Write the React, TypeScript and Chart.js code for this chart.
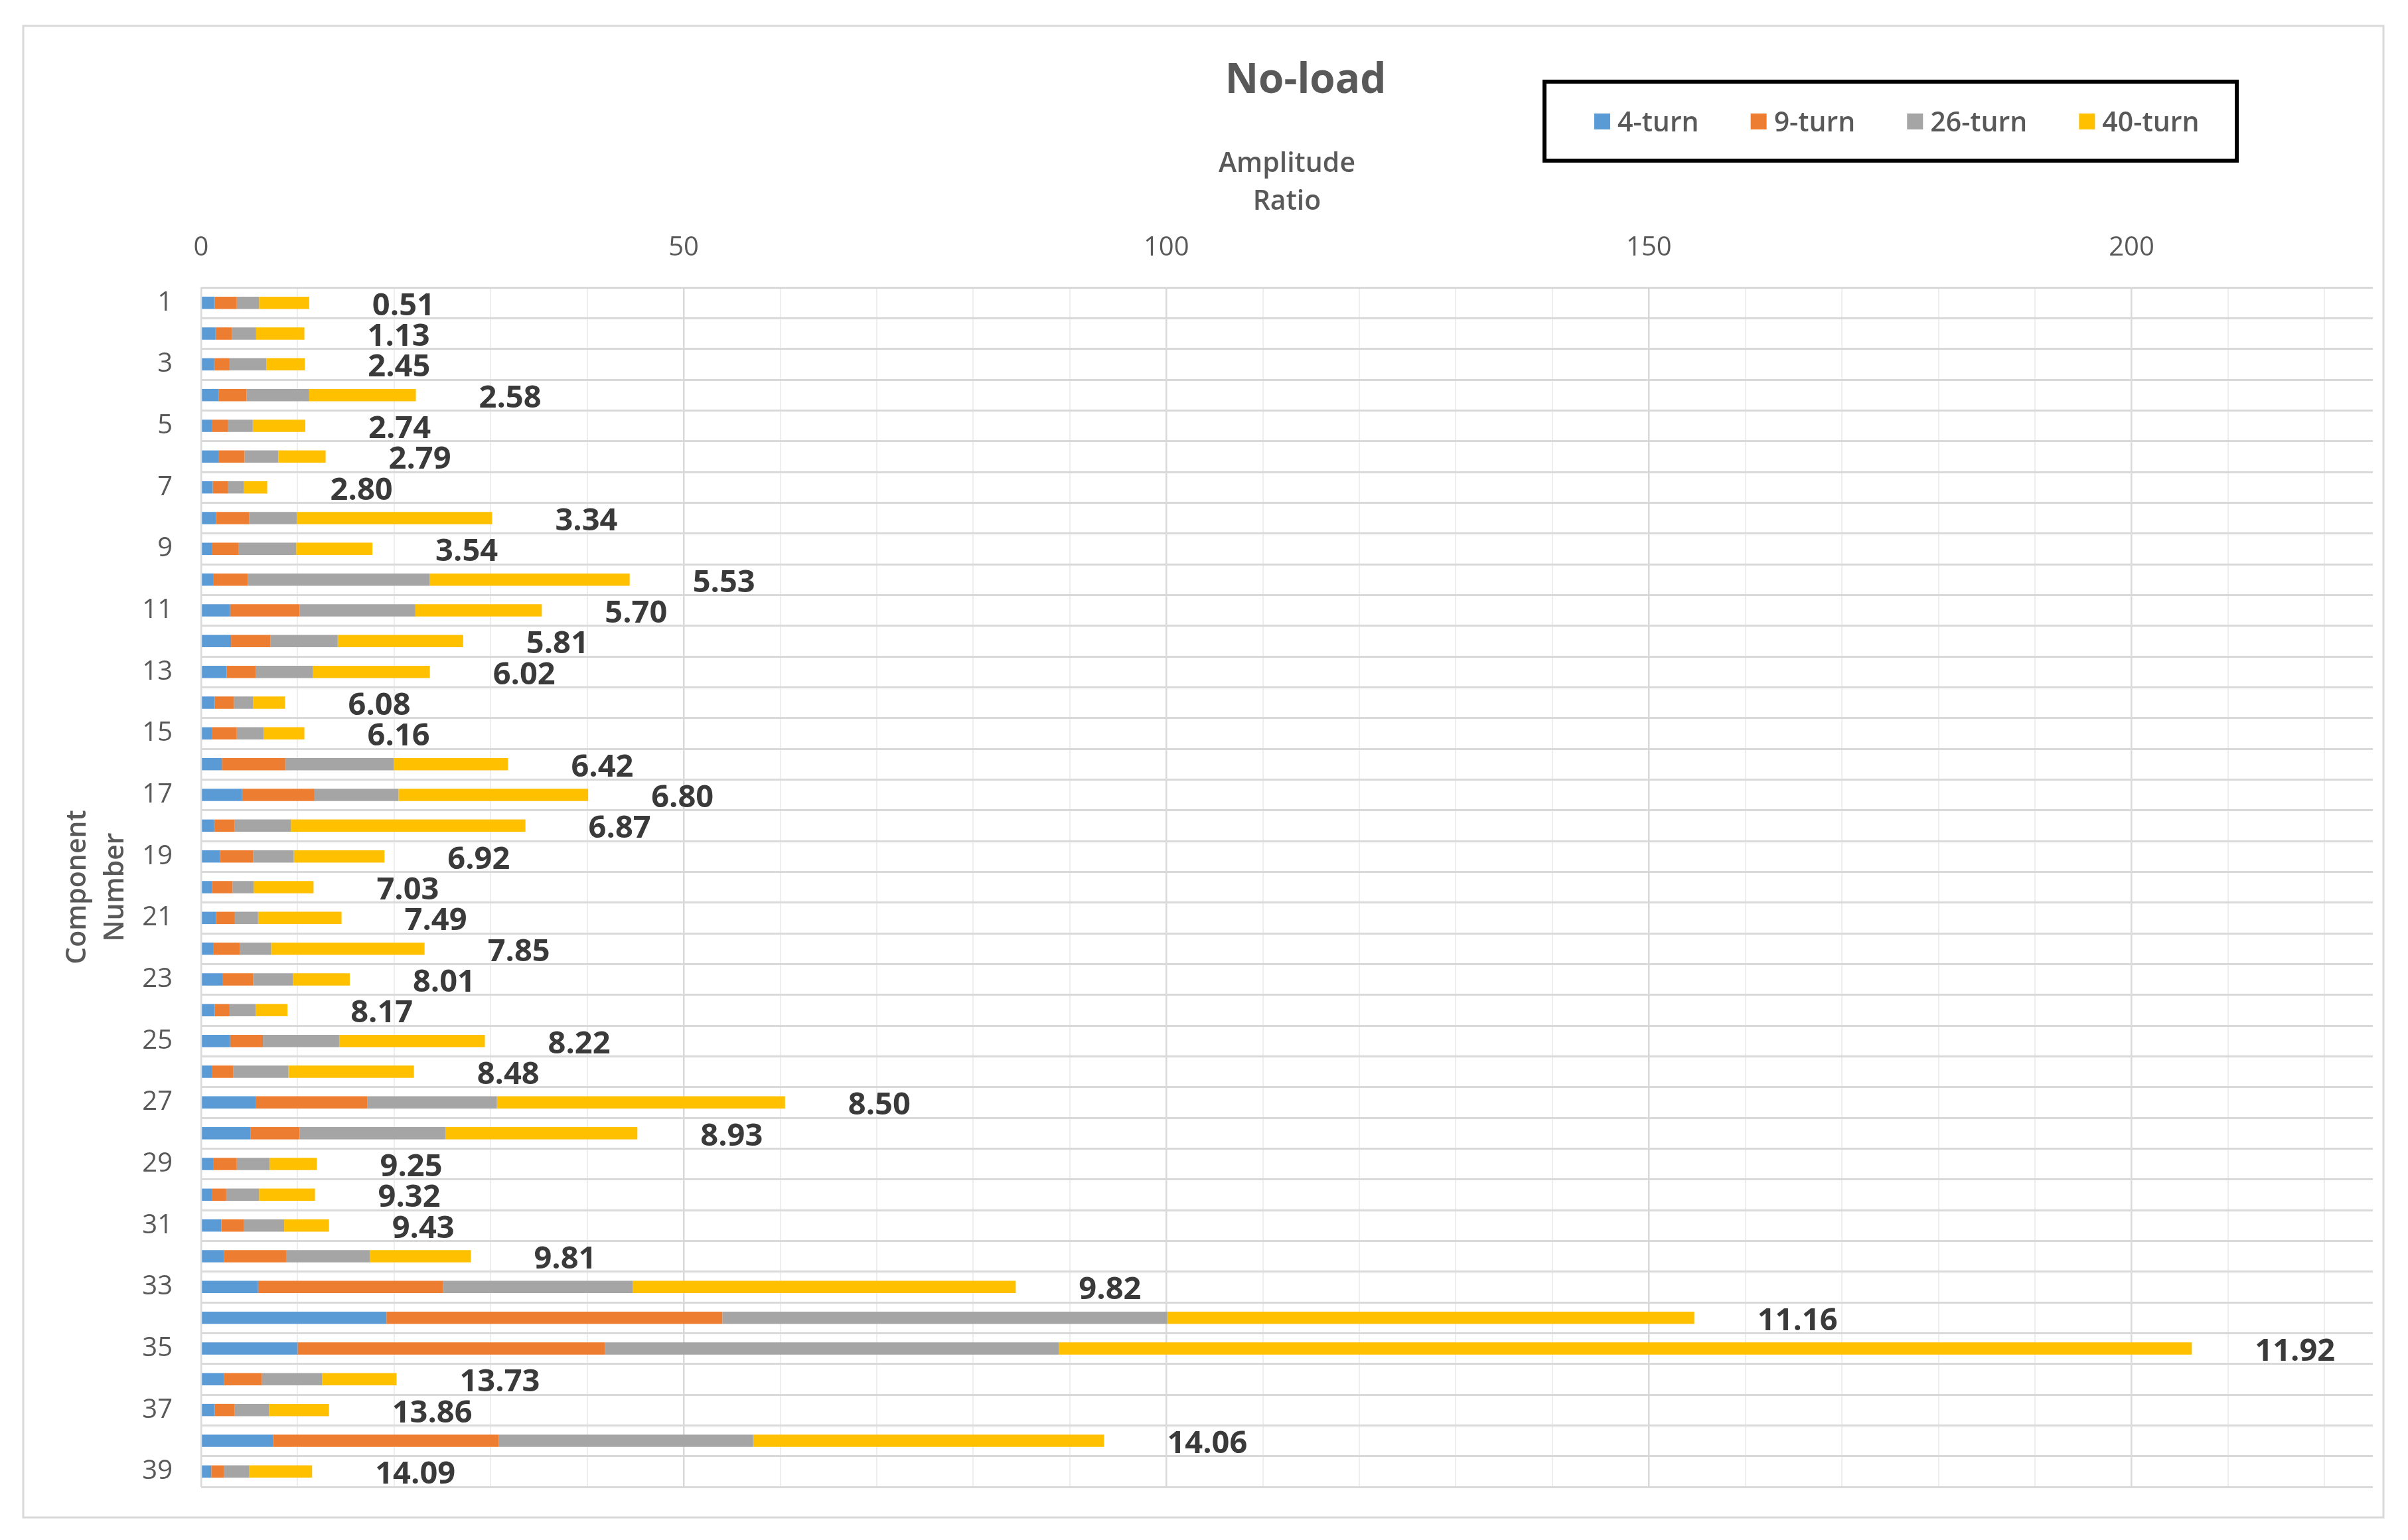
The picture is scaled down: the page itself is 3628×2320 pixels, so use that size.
import React, { useEffect, useRef } from 'react';
import { Chart, registerables } from 'chart.js';

Chart.register(...registerables);

const categories = ['1','2','3','4','5','6','7','8','9','10','11','12','13','14','15','16','17','18','19','20','21','22','23','24','25','26','27','28','29','30','31','32','33','34','35','36','37','38','39'];

const seriesNames = ['4-turn', '9-turn', '26-turn', '40-turn'];
const seriesColors = ['#5B9BD5', '#ED7D31', '#A5A5A5', '#FFC000'];

const turn4 = [1.4,1.5,1.35,1.8,1.1,1.85,1.2,1.55,1.1,1.3,3.0,3.1,2.65,1.4,1.1,2.15,4.25,1.35,1.95,1.15,1.55,1.3,2.2,1.4,3.0,1.1,5.7,5.1,1.3,1.1,2.1,2.35,5.9,19.2,10.0,2.35,1.4,7.45,1.05];
const turn9 = [2.3,1.7,1.6,2.9,1.65,2.65,1.55,3.45,2.75,3.55,7.2,4.1,3.0,2.0,2.6,6.6,7.5,2.1,3.45,2.1,1.95,2.7,3.2,1.55,3.4,2.25,11.5,5.1,2.4,1.5,2.3,6.45,19.15,34.8,31.85,3.95,2.05,23.4,1.3];
const turn26 = [2.3,2.5,3.8,6.5,2.6,3.5,1.65,4.9,6.0,18.85,12.0,6.95,5.95,2.0,2.8,11.2,8.7,5.85,4.2,2.2,2.4,3.25,4.1,2.7,7.9,5.7,13.45,15.1,3.4,3.4,4.2,8.7,19.65,46.1,47.0,6.25,3.6,26.35,2.65];
const turn40 = [5.2,5.0,4.0,11.05,5.45,4.9,2.45,20.25,7.9,20.7,13.1,13.0,12.1,3.3,4.2,11.85,19.65,24.3,9.4,6.2,8.65,15.9,5.9,3.3,15.1,13.0,29.85,19.9,4.9,5.8,4.65,10.45,39.7,54.6,117.4,7.7,6.2,36.35,6.5];

const ratioLabels = ['0.51','1.13','2.45','2.58','2.74','2.79','2.80','3.34','3.54','5.53','5.70','5.81','6.02','6.08','6.16','6.42','6.80','6.87','6.92','7.03','7.49','7.85','8.01','8.17','8.22','8.48','8.50','8.93','9.25','9.32','9.43','9.81','9.82','11.16','11.92','13.73','13.86','14.06','14.09'];

const xMajorTicks = [0, 50, 100, 150, 200];
const xMin = 0;
const xMax = 225;
const xStep = 10;

const chartTitle = 'No-load';
const xTitle = ['Amplitude', 'Ratio'];
const yTitle = ['Component', 'Number'];

const FONT = '"Open Sans", "DejaVu Sans", sans-serif';
const TEXT = '#595959';

const W = 3628;
const H = 2320;

const framePlugin = {
  id: 'frame',
  beforeDraw(chart: any) {
    const ctx = chart.ctx;
    ctx.save();
    ctx.fillStyle = '#ffffff';
    ctx.fillRect(0, 0, chart.width, chart.height);
    ctx.strokeStyle = '#d9d9d9';
    ctx.lineWidth = 3;
    ctx.strokeRect(35, 39, 3556, 2247);
    ctx.restore();
  },
};

const overlayPlugin = {
  id: 'overlay',
  afterDraw(chart: any) {
    const ctx = chart.ctx;
    ctx.save();
    // title
    ctx.fillStyle = TEXT;
    ctx.font = `bold 62px ${FONT}`;
    ctx.textAlign = 'center';
    ctx.textBaseline = 'middle';
    ctx.fillText(chartTitle, 1967, 122);
    // legend box
    ctx.strokeStyle = '#000000';
    ctx.lineWidth = 6;
    ctx.strokeRect(2327, 123, 1043, 119);
    // legend items
    ctx.font = `600 41px ${FONT}`;
    ctx.textAlign = 'left';
    let x = 2402;
    chart.data.datasets.forEach((ds: any) => {
      ctx.fillStyle = ds.backgroundColor;
      ctx.fillRect(x, 171, 24, 24);
      ctx.fillStyle = TEXT;
      ctx.fillText(ds.label, x + 35, 186);
      x += 35 + ctx.measureText(ds.label).width + 78;
    });
    ctx.restore();
  },
};

const totalsPlugin = {
  id: 'totals',
  afterDatasetsDraw(chart: any) {
    const ctx = chart.ctx;
    const xs = chart.scales.x;
    const lastMeta = chart.getDatasetMeta(chart.data.datasets.length - 1);
    ctx.save();
    ctx.fillStyle = '#3a3a3a';
    ctx.font = `bold 47px ${FONT}`;
    ctx.textAlign = 'left';
    ctx.textBaseline = 'middle';
    categories.forEach((_, i) => {
      let total = 0;
      chart.data.datasets.forEach((ds: any) => { total += ds.data[i]; });
      const px = xs.getPixelForValue(total) + 95;
      const py = lastMeta.data[i].y + 5;
      ctx.fillText(ratioLabels[i], px, py);
    });
    ctx.restore();
  },
};

export default function App() {
  const ref = useRef<HTMLCanvasElement | null>(null);

  useEffect(() => {
    if (!ref.current) return;
    const seriesData = [turn4, turn9, turn26, turn40];
    const chart = new Chart(ref.current, {
      type: 'bar',
      data: {
        labels: categories,
        datasets: seriesNames.map((name, k) => ({
          label: name,
          data: seriesData[k],
          backgroundColor: seriesColors[k],
          borderWidth: 0,
          barPercentage: 0.4,
          categoryPercentage: 1,
        })),
      },
      options: {
        indexAxis: 'y',
        responsive: false,
        animation: false,
        devicePixelRatio: 1,
        layout: { padding: { left: 0, top: 0, right: W - 3575, bottom: H - 2240 } },
        plugins: {
          legend: { display: false },
          title: { display: false },
          tooltip: { enabled: false },
        },
        scales: {
          x: {
            type: 'linear',
            position: 'top',
            stacked: true,
            min: xMin,
            max: xMax,
            afterFit(scale: any) { scale.height = 433; },
            ticks: {
              stepSize: xStep,
              includeBounds: false,
              autoSkip: false,
              maxRotation: 0,
              padding: 35,
              color: TEXT,
              font: { family: FONT, size: 40 },
              callback: (v: any) => (xMajorTicks.includes(Number(v)) ? String(v) : ''),
            },
            grid: {
              drawTicks: false,
              color: (c: any) => (c.tick && xMajorTicks.includes(c.tick.value) ? '#d9d9d9' : '#eeeeee'),
              lineWidth: (c: any) => (c.tick && xMajorTicks.includes(c.tick.value) ? 2.5 : 2),
            },
            border: { display: false },
            title: {
              display: true,
              text: xTitle,
              color: TEXT,
              font: { family: FONT, size: 41, weight: '600', lineHeight: 1.39 },
              padding: { top: 219, bottom: 0 },
            },
          },
          y: {
            type: 'category',
            stacked: true,
            afterFit(scale: any) { scale.width = 303; },
            ticks: {
              autoSkip: false,
              padding: 43,
              color: TEXT,
              font: { family: FONT, size: 40 },
              callback: (_v: any, i: number) => (i % 2 === 0 ? categories[i] : ''),
            },
            grid: {
              drawTicks: false,
              color: '#d9d9d9',
              lineWidth: 3,
            },
            border: { display: false },
            title: {
              display: true,
              text: yTitle,
              color: TEXT,
              font: { family: FONT, size: 41, weight: '600', lineHeight: 1.39 },
              padding: { top: 89, bottom: 0 },
            },
          },
        },
      },
      plugins: [framePlugin, totalsPlugin, overlayPlugin],
    } as any);
    return () => chart.destroy();
  }, []);

  return (
    <div style={{ position: 'fixed', left: 0, top: 0, width: W, height: H, background: '#ffffff' }}>
      <canvas ref={ref} width={W} height={H} style={{ display: 'block', width: W, height: H }} />
    </div>
  );
}
